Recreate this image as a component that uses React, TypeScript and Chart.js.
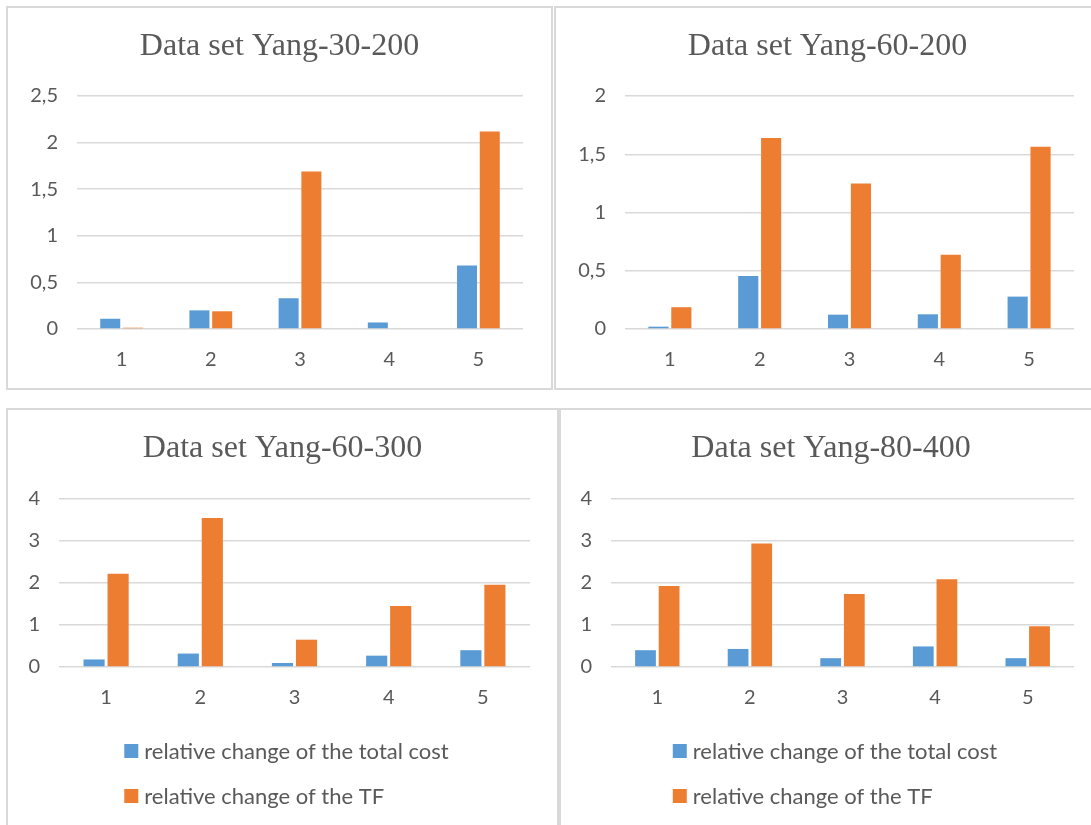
import React, { useEffect, useRef } from "react";
import { Chart, registerables } from "chart.js";

Chart.register(...registerables);

// ---------- data ----------
const categories = ["1", "2", "3", "4", "5"];
const seriesNames = ["relative change of the total cost", "relative change of the TF"];

const titleA = "Data set Yang-30-200";
const costA = [0.11, 0.2, 0.33, 0.07, 0.68];
const tfA = [0.014, 0.19, 1.69, 0, 2.12];
const yTicksA = [0, 0.5, 1, 1.5, 2, 2.5];

const titleB = "Data set Yang-60-200";
const costB = [0.02, 0.455, 0.123, 0.126, 0.278];
const tfB = [0.187, 1.64, 1.25, 0.637, 1.564];
const yTicksB = [0, 0.5, 1, 1.5, 2];

const titleC = "Data set Yang-60-300";
const costC = [0.18, 0.32, 0.095, 0.27, 0.4];
const tfC = [2.22, 3.55, 0.65, 1.455, 1.96];
const yTicksC = [0, 1, 2, 3, 4];

const titleD = "Data set Yang-80-400";
const costD = [0.4, 0.43, 0.21, 0.49, 0.21];
const tfD = [1.93, 2.94, 1.74, 2.09, 0.97];
const yTicksD = [0, 1, 2, 3, 4];

// ---------- styles ----------
const BLUE = "#5B9BD5";
const ORANGE = "#ED7D31";
const TEXT = "#595959";
const GRID = "#D9D9D9";
const SANS = "Lato, 'Open Sans', sans-serif";
const SERIF = "'Liberation Serif', 'Times New Roman', serif";
const TITLE_SIZE = 32;
const TICK_SIZE = 20;
const LEGEND_SIZE = 22;

const stackLegend = {
  id: "stackLegend",
  afterDraw(chart: any, _args: any, opts: any) {
    if (!opts || !opts.show) return;
    const ctx = chart.ctx;
    ctx.save();
    ctx.font = `${opts.fontSize}px ${SANS}`;
    const items = chart.data.datasets.map((d: any) => ({ text: d.label, color: d.backgroundColor }));
    const box = 14;
    const gap = 6;
    const maxW = Math.max(...items.map((i: any) => ctx.measureText(i.text).width)) + box + gap;
    const x0 = chart.width / 2 - maxW / 2 + opts.offsetX;
    items.forEach((it: any, i: number) => {
      const cy = chart.chartArea.bottom + opts.firstOffset + i * opts.spacing;
      ctx.fillStyle = it.color;
      ctx.fillRect(x0, cy - box / 2, box, box);
      ctx.fillStyle = TEXT;
      ctx.textBaseline = "middle";
      ctx.textAlign = "left";
      ctx.fillText(it.text, x0 + box + gap, cy + 1);
    });
    ctx.restore();
  },
};

type PanelProps = {
  title: string;
  cost: number[];
  tf: number[];
  yTicks: number[];
  left: number;
  top: number;
  width: number;
  height: number;
  plotLeft: number;
  plotTop: number;
  rightPad: number;
  bottomPad: number;
  legend: boolean;
};

function Panel(p: PanelProps) {
  const ref = useRef<HTMLCanvasElement>(null);
  const cw = p.width - 4;
  const ch = p.height - 4;
  useEffect(() => {
    if (!ref.current) return;
    const lh = TITLE_SIZE * 1.2;
    const tTop = 39 - lh / 2;
    const chart = new Chart(ref.current, {
      type: "bar",
      data: {
        labels: categories,
        datasets: [
          { label: seriesNames[0], data: p.cost, backgroundColor: BLUE, borderWidth: 0 },
          { label: seriesNames[1], data: p.tf, backgroundColor: ORANGE, borderWidth: 0 },
        ],
      },
      plugins: [stackLegend],
      options: {
        responsive: false,
        animation: false,
        devicePixelRatio: 1,
        layout: { padding: { left: 0, right: 0, top: 0, bottom: p.bottomPad } },
        datasets: { bar: { categoryPercentage: 0.51, barPercentage: 0.88 } },
        plugins: {
          legend: { display: false },
          tooltip: { enabled: false },
          title: {
            display: true,
            text: p.title,
            color: TEXT,
            font: { family: SERIF, size: TITLE_SIZE, weight: "normal" as any, lineHeight: 1.2 },
            padding: { top: tTop, bottom: p.plotTop - tTop - lh },
          },
          stackLegend: { show: p.legend, fontSize: LEGEND_SIZE, offsetX: 4, firstOffset: 84, spacing: 45 },
        } as any,
        scales: {
          x: {
            grid: { display: false },
            border: { display: false },
            ticks: { color: TEXT, font: { family: SANS, size: TICK_SIZE }, padding: 11 },
            afterFit: (axis: any) => {
              axis.height = 59;
            },
          },
          y: {
            min: p.yTicks[0],
            max: p.yTicks[p.yTicks.length - 1],
            afterBuildTicks: (axis: any) => {
              axis.ticks = p.yTicks.map((v) => ({ value: v }));
            },
            grid: { color: GRID, lineWidth: 1.5, drawTicks: false },
            border: { display: false },
            ticks: {
              color: TEXT,
              font: { family: SANS, size: TICK_SIZE },
              padding: 19,
              callback: (v: any) => String(v).replace(".", ","),
            },
            afterFit: (axis: any) => {
              axis.width = p.plotLeft;
            },
          },
          yRightSpace: {
            position: "right",
            display: true,
            grid: { display: false, drawTicks: false },
            border: { display: false },
            ticks: { display: false },
            afterFit: (axis: any) => {
              axis.width = p.rightPad;
            },
          },
        } as any,
      },
    });
    return () => chart.destroy();
  }, []);
  return (
    <div
      style={{
        position: "absolute",
        left: p.left,
        top: p.top,
        width: p.width,
        height: p.height,
        boxSizing: "border-box",
        border: `2px solid ${GRID}`,
        background: "#fff",
      }}
    >
      <canvas ref={ref} width={cw} height={ch} style={{ display: "block", width: cw, height: ch }} />
    </div>
  );
}

export default function App() {
  return (
    <div
      style={{
        position: "absolute",
        left: 0,
        top: 0,
        width: 1091,
        height: 825,
        overflow: "hidden",
        background: "#fff",
      }}
    >
      <Panel title={titleA} cost={costA} tf={tfA} yTicks={yTicksA}
        left={6} top={6} width={547} height={384}
        plotLeft={69} plotTop={88} rightPad={28} bottomPad={0} legend={false} />
      <Panel title={titleB} cost={costB} tf={tfB} yTicks={yTicksB}
        left={554} top={6} width={547} height={384}
        plotLeft={69} plotTop={88} rightPad={25} bottomPad={0} legend={false} />
      <Panel title={titleC} cost={costC} tf={tfC} yTicks={yTicksC}
        left={6} top={408} width={553} height={430}
        plotLeft={51} plotTop={89} rightPad={27} bottomPad={110} legend={true} />
      <Panel title={titleD} cost={costD} tf={tfD} yTicks={yTicksD}
        left={559} top={408} width={544} height={430}
        plotLeft={50} plotTop={89} rightPad={27} bottomPad={110} legend={true} />
    </div>
  );
}
